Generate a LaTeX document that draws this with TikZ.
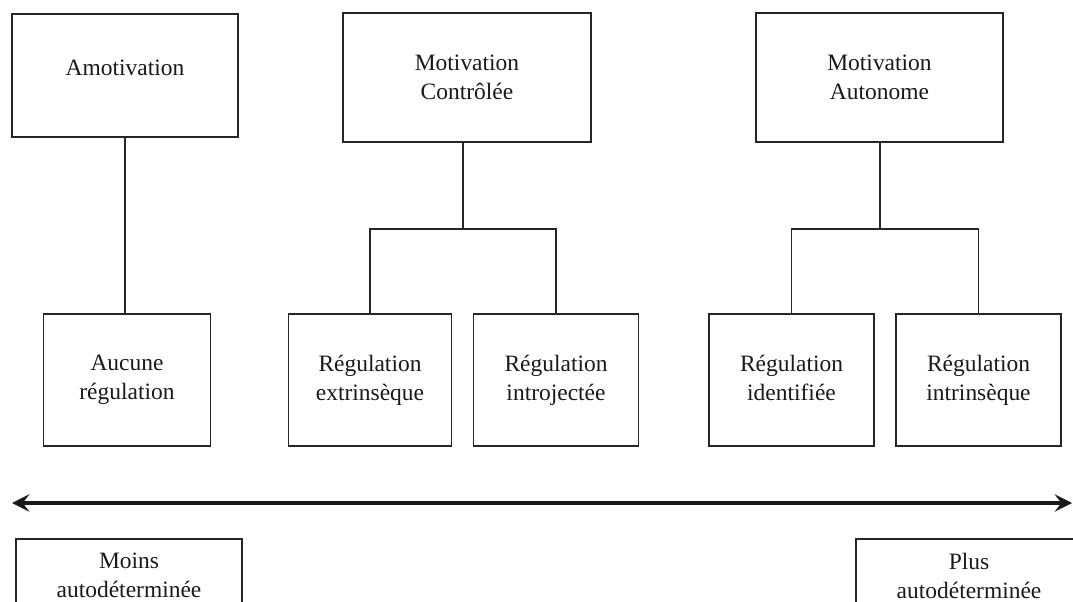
\documentclass[tikz,border=0pt]{standalone}
\usepackage{fontspec}
\setmainfont{Liberation Serif}
\usetikzlibrary{arrows.meta}
\begin{document}
\begin{tikzpicture}[x=0.75pt,y=-0.75pt,
  txt/.style={font=\fontsize{17.6}{21.8}\selectfont, align=center, text=black!90},
  box/.style={txt, draw=black!85, line width=1.4pt, inner sep=0pt},
  topbox/.style={box, minimum height=96.75pt},
  regbox/.style={box, minimum width=123.75pt, minimum height=99pt},
  endbox/.style={txt, draw=black!85, line width=1.2pt, anchor=north, minimum width=169.5pt, inner xsep=0pt, inner ysep=10.5pt},
  link/.style={draw=black!85, line width=1.2pt},
  scalearrow/.style={draw=black!90, line width=2.6pt, {Stealth[length=13pt,width=13pt,inset=5pt]}-{Stealth[length=13pt,width=13pt,inset=5pt]}}
]
\clip (0,0) rectangle (1073,602);
% top row
\node[box, minimum width=169.5pt, minimum height=92.25pt] (amot) at (125,75.5) {\raisebox{12pt}{Amotivation}};
\node[topbox, minimum width=186pt] (ctrl) at (467,77.5) {Motivation\\Contrôlée};
\node[topbox, minimum width=185.25pt] (auto) at (879.5,77.5) {Motivation\\Autonome};
% bottom row
\node[regbox, minimum width=125.25pt] (aucune) at (127,380) {Aucune\vphantom{R}\\régulation};
\node[regbox, minimum width=122.25pt] (extr) at (370,380) {Régulation\\extrinsèque};
\node[regbox] (intro) at (556,380) {Régulation\\introjectée};
\node[regbox] (ident) at (791.5,380) {Régulation\\identifiée\vphantom{q}};
\node[regbox] (intr) at (978.5,380) {Régulation\\intrinsèque};
% connectors
\coordinate (cj) at (463,229);
\coordinate (aj) at (880,229);
\draw[link] (amot.south) -- (amot.south |- aucune.north);
\draw[link] (cj |- ctrl.south) -- (cj);
\draw[link] (extr.north) |- (cj) -| (intro.north);
\draw[link] (aj |- auto.south) -- (aj);
\draw[link] (ident.north) |- (aj) -| (intr.north);
% scale
\coordinate (aL) at (12,503);
\coordinate (aR) at (1072,503);
\draw[scalearrow] (aL) -- (aR);
\node[endbox] (moins) at (129,538) {Moins\\autodéterminée\\[30pt]\mbox{}};
\node[endbox] (plus) at (969,538) {Plus\\autodéterminée\\[30pt]\mbox{}};
\end{tikzpicture}
\end{document}
